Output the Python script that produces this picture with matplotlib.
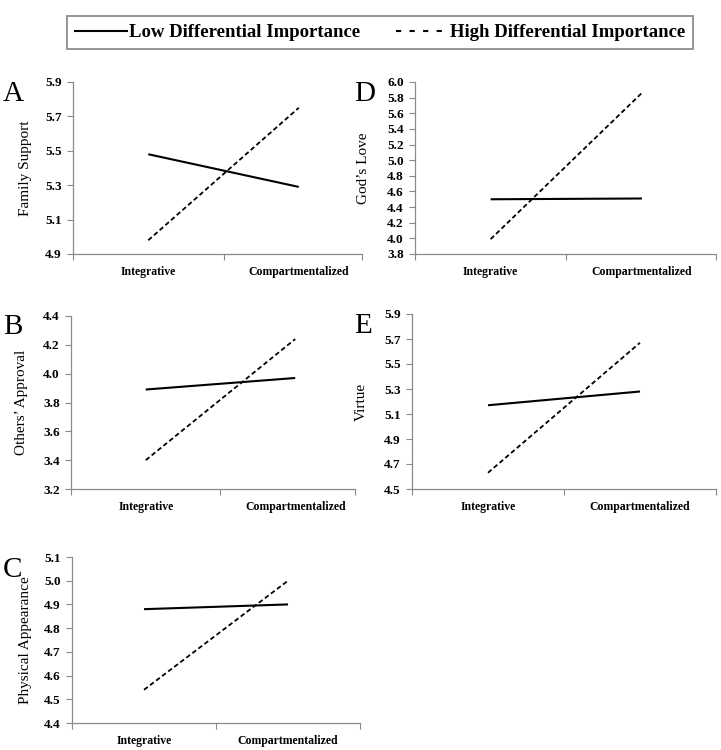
import matplotlib
matplotlib.use("Agg")
import matplotlib.pyplot as plt
from matplotlib.lines import Line2D
import numpy as np

plt.rcParams['font.family'] = ['Liberation Serif', 'DejaVu Serif']

categories = ["Integrative", "Compartmentalized"]
series_names = ["Low Differential Importance", "High Differential Importance"]

# panel values: (low, high)
family_low = [5.48, 5.29]
family_high = [4.98, 5.75]
gods_low = [4.50, 4.51]
gods_high = [3.99, 5.86]
others_low = [3.89, 3.97]
others_high = [3.40, 4.24]
virtue_low = [5.17, 5.28]
virtue_high = [4.63, 5.67]
phys_low = [4.88, 4.90]
phys_high = [4.54, 5.00]

W, H = 721, 750
fig = plt.figure(figsize=(W / 100, H / 100), dpi=100)

def px_axes(left, right, top, bottom):
    return fig.add_axes([left / W, 1 - bottom / H, (right - left) / W, (bottom - top) / H])

panels = [
    ("A", "Family Support", family_low, family_high, np.round(np.arange(4.9, 5.91, 0.2), 1),
     (73, 362, 82, 254), 1.92, (3, 101), 32),
    ("D", "God\u2019s Love", gods_low, gods_high, np.round(np.arange(3.8, 6.01, 0.2), 1),
     (415, 716, 82, 254), 1.99, (354, 101), 370),
    ("B", "Others\u2019 Approval", others_low, others_high, np.round(np.arange(3.2, 4.41, 0.2), 1),
     (71, 355, 316, 489), 1.90, (3, 334), 28),
    ("E", "Virtue", virtue_low, virtue_high, np.round(np.arange(4.5, 5.91, 0.2), 1),
     (412, 716, 314, 489), 2.0, (354, 333), 368),
    ("C", "Physical Appearance", phys_low, phys_high, np.round(np.arange(4.4, 5.11, 0.1), 1),
     (72, 360, 557, 723), 2.0, (3, 577), 32),
]

xpos = [0.5, 1.5]
for letter, ylab, low, high, yt, box, xmax, lpos, ylx in panels:
    ax = px_axes(*box)
    ax.plot(xpos, low, color='black', lw=1.5, solid_capstyle='butt')
    ax.plot(xpos, high, color='black', lw=1.3, dashes=(2.6, 1.6))
    ax.set_xlim(0, xmax)
    ax.set_ylim(yt[0], yt[-1])
    ax.set_yticks(yt)
    ax.set_yticklabels([f"{v:.1f}" for v in yt], fontsize=9.5, fontweight='bold')
    ax.set_xticks([0, 1, xmax])
    ax.set_xticklabels([])
    ax.set_xticks(xpos, minor=True)
    ax.set_xticklabels(categories, minor=True, fontsize=8.5, fontweight='bold')
    ax.tick_params(axis='x', which='minor', length=0, pad=8.5)
    ax.tick_params(axis='both', which='major', length=4, width=0.8, color='#8a8a8a', direction='out')
    ax.tick_params(axis='y', pad=4)
    for s in ['top', 'right']:
        ax.spines[s].set_visible(False)
    for s in ['left', 'bottom']:
        ax.spines[s].set_color('#8a8a8a')
        ax.spines[s].set_linewidth(0.9)
    ax.set_ylabel(ylab, fontsize=11)
    ax.yaxis.set_label_coords((ylx - box[0]) / (box[1] - box[0]), 0.5)
    fig.text(lpos[0] / W, 1 - lpos[1] / H, letter, fontsize=21, ha='left', va='baseline')

handles = [Line2D([], [], color='black', lw=1.5),
           Line2D([], [], color='black', lw=1.5, dashes=(2.5, 4))]
leg = fig.legend(handles, series_names, ncol=2, loc='center',
                 bbox_to_anchor=(67 / W, 1 - 62 / H, (693 - 67) / W, 59 / H),
                 mode='expand', frameon=True, fancybox=False, edgecolor='#7a7a7a',
                 handlelength=2.8, handletextpad=0.1, columnspacing=2.5, borderaxespad=0,
                 prop={'size': 13.5, 'weight': 'bold'})
leg.get_frame().set_linewidth(1.4)

fig.savefig("out.png", dpi=100)
